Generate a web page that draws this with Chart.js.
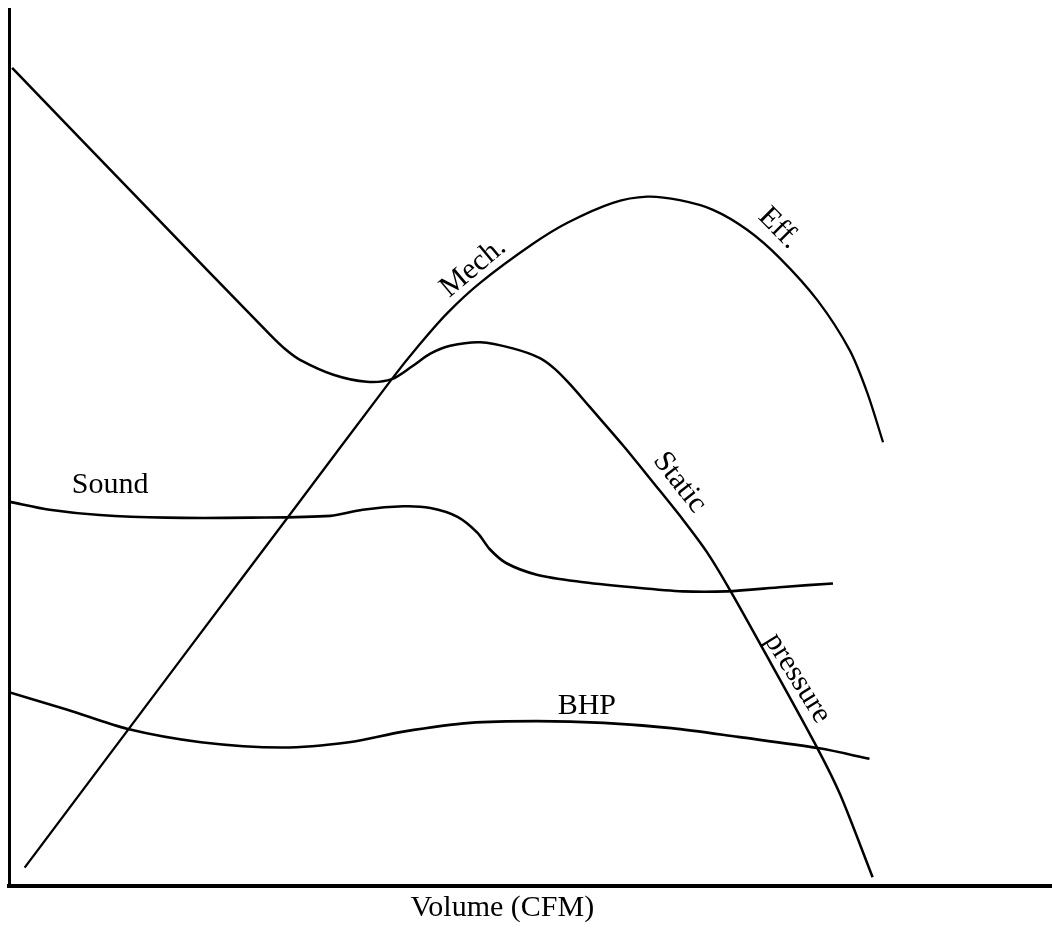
<!DOCTYPE html>
<html>
<head>
<meta charset="utf-8">
<script src="https://cdn.jsdelivr.net/npm/chart.js@4.4.1/dist/chart.umd.min.js"></script>
<style>
  html, body { margin: 0; padding: 0; background: #fff; }
  #wrap { width: 1052px; height: 929px; position: relative; }
</style>
</head>
<body>
<div id="wrap"><canvas id="fanChart"></canvas></div>
<script>
// values, arbitrary units (0-100 on both axes)
const staticX = [0.3, 13.5, 25.0, 26.5, 27.9, 31.1, 34.3, 36.7, 38.7, 40.4, 42.3, 45.2, 48.3, 50.9, 52.3, 53.8, 55.7, 58.9, 61.7, 64.6, 66.9, 69.1, 73.0, 77.6, 79.7, 82.8];
const staticY = [93.3, 77.0, 62.9, 61.2, 60.0, 58.3, 57.5, 57.8, 59.3, 60.7, 61.6, 62.0, 61.3, 60.2, 59.0, 57.2, 54.6, 50.2, 46.1, 41.8, 38.1, 33.8, 25.5, 15.5, 10.4, 1.0];

const effX = [1.5, 17.4, 26.9, 36.7, 39.4, 42.0, 45.2, 50.2, 53.5, 57.9, 61.2, 64.3, 67.5, 70.8, 73.9, 77.5, 80.6, 82.3, 83.8];
const effY = [2.1, 27.3, 42.3, 57.8, 61.8, 65.3, 68.8, 73.2, 75.6, 77.9, 78.6, 78.2, 77.1, 74.8, 71.6, 66.8, 61.1, 56.2, 50.6];

const soundX = [0.1, 3.9, 8.7, 15.1, 23.1, 30.8, 33.9, 37.8, 40.4, 43.0, 44.9, 46.1, 47.7, 50.6, 54.7, 59.5, 64.6, 68.8, 74.2, 79.0];
const soundY = [43.8, 42.9, 42.3, 42.0, 42.0, 42.2, 42.9, 43.3, 43.1, 42.1, 40.3, 38.4, 36.8, 35.5, 34.7, 34.1, 33.6, 33.6, 34.1, 34.5];

const bhpX = [0, 5.6, 11.4, 18.4, 26.2, 32.6, 37.8, 44.2, 50.6, 57.0, 63.5, 69.9, 77.7, 82.5];
const bhpY = [22.1, 20.1, 17.9, 16.4, 15.8, 16.4, 17.6, 18.6, 18.8, 18.6, 18.0, 17.0, 15.7, 14.5];

// curve names written beside the lines
const curveLabels = [
    { text: 'Sound', x: 9.7, y: 45.7, angle: 0 },
    { text: 'BHP', x: 55.4, y: 20.5, angle: 0 },
    { text: 'Mech.', x: 44.5, y: 70.5, angle: -40 },
    { text: 'Eff.', x: 73.8, y: 75.0, angle: 45 },
    { text: 'Static', x: 64.3, y: 46.0, angle: 52 },
    { text: 'pressure', x: 75.6, y: 23.7, angle: 58 }
];

const xTitle = 'Volume (CFM)';
const xTitleAt = 47.3; // the caption sits a bit left of the axis middle

const serif = '"Liberation Serif", "DejaVu Serif", serif';

const toPoints = (xs, ys) => xs.map((x, i) => ({ x: x, y: ys[i] }));

const curve = (label, xs, ys, width) => ({
    label: label,
    data: toPoints(xs, ys),
    borderColor: '#000',
    borderWidth: width,
    pointRadius: 0,
    fill: false,
    showLine: true,
    tension: 0.3
});

const curveLabelPlugin = {
    id: 'curveLabels',
    afterDatasetsDraw(chart) {
        const { ctx, scales, chartArea } = chart;
        ctx.save();
        ctx.fillStyle = '#000';
        ctx.font = '30px ' + serif;
        ctx.textAlign = 'center';
        ctx.textBaseline = 'middle';
        curveLabels.forEach(l => {
            ctx.save();
            ctx.translate(scales.x.getPixelForValue(l.x), scales.y.getPixelForValue(l.y));
            ctx.rotate(l.angle * Math.PI / 180);
            ctx.fillText(l.text, 0, 0);
            ctx.restore();
        });
        ctx.fillText(xTitle, scales.x.getPixelForValue(xTitleAt), chartArea.bottom + 22);
        ctx.restore();
    }
};

new Chart(document.getElementById('fanChart'), {
    type: 'scatter',
    data: {
        datasets: [
            curve('Static pressure', staticX, staticY, 2.5),
            curve('Mech. Eff.', effX, effY, 2.3),
            curve('Sound', soundX, soundY, 2.6),
            curve('BHP', bhpX, bhpY, 2.6)
        ]
    },
    options: {
        responsive: true,
        maintainAspectRatio: false,
        animation: false,
        layout: { padding: { left: 9, top: 9, right: 0, bottom: 43 } },
        plugins: {
            legend: { display: false },
            tooltip: { enabled: false }
        },
        scales: {
            x: {
                type: 'linear',
                min: 0,
                max: 100,
                grid: { display: false, drawTicks: false },
                border: { display: true, color: '#000', width: 4 },
                ticks: { display: false }
            },
            y: {
                type: 'linear',
                min: 0,
                max: 100,
                grid: { display: false, drawTicks: false },
                border: { display: true, color: '#000', width: 3 },
                ticks: { display: false }
            }
        }
    },
    plugins: [curveLabelPlugin]
});
</script>
</body>
</html>
